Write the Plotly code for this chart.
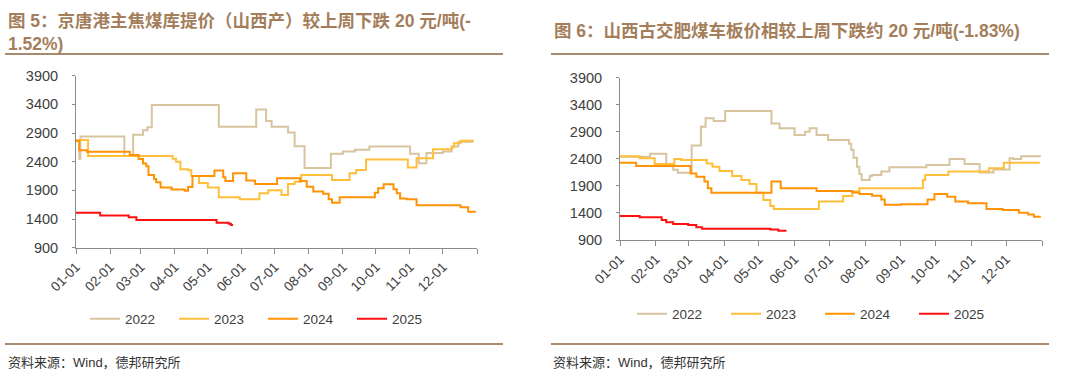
import plotly.graph_objects as go

# ---------------- data ----------------
years = ["2022", "2023", "2024", "2025"]
month_tick_labels = ["01-01", "02-01", "03-01", "04-01", "05-01", "06-01",
                     "07-01", "08-01", "09-01", "10-01", "11-01", "12-01"]

# Left chart: 京唐港主焦煤库提价（山西产）, 元/吨
jtg_2022_dates = ["01-01", "01-04", "01-05", "02-14", "02-22", "03-03", "03-07", "03-11", "05-11", "06-14",
                  "06-23", "06-28", "07-13", "07-19", "07-28", "08-21", "09-01", "09-12", "09-25", "11-01",
                  "11-09", "11-16", "12-01", "12-09", "12-15", "12-28"]
jtg_2022_vals = [2780, 2450, 2840, 2500, 2870, 2950, 3000, 3390, 3010, 3310,
                 3110, 3010, 2910, 2670, 2290, 2540, 2580, 2610, 2665, 2540,
                 2375, 2550, 2580, 2665, 2750, 2760]

jtg_2023_dates = ["01-01", "01-12", "03-30", "04-02", "04-06", "04-13", "04-16", "04-23", "05-01", "05-11",
                  "05-30", "06-17", "06-25", "07-07", "07-13", "07-19", "07-25", "08-22", "09-07", "09-13",
                  "09-22", "10-30", "11-07", "11-22", "12-09", "12-11", "12-17", "12-29"]
jtg_2023_vals = [2780, 2500, 2450, 2400, 2270, 2250, 2150, 2030, 1950, 1780,
                 1745, 1850, 1900, 1820, 2010, 2050, 2170, 2080, 2200, 2255,
                 2440, 2300, 2460, 2615, 2650, 2720, 2765, 2765]

jtg_2024_dates = ["01-01", "01-04", "01-11", "02-19", "02-27", "03-03", "03-06", "03-08", "03-13", "03-15",
                  "03-19", "03-29", "04-10", "04-13", "04-17", "05-07", "05-15", "05-17", "05-24", "06-05",
                  "06-13", "07-03", "07-24", "07-30", "08-05", "08-14", "08-19", "08-22", "08-29", "09-30",
                  "10-03", "10-08", "10-17", "10-20", "10-23", "10-29", "11-07", "12-17", "12-24", "12-31"]
jtg_2024_vals = [2760, 2600, 2575, 2515, 2445, 2370, 2320, 2170, 2100, 2040,
                 1950, 1915, 1895, 1960, 2150, 2245, 2130, 2065, 2200, 2070,
                 2010, 2110, 2065, 1965, 1880, 1840, 1745, 1685, 1780, 1860,
                 1935, 2005, 1920, 1850, 1760, 1745, 1640, 1605, 1525, 1525]

jtg_2025_dates = ["01-01", "01-23", "02-18", "02-25", "05-09", "05-20", "05-22", "05-24"]
jtg_2025_vals = [1510, 1460, 1430, 1385, 1336, 1316, 1296, 1296]

# Right chart: 山西古交肥煤车板价, 元/吨
gj_2022_dates = ["01-01", "01-27", "02-10", "02-16", "02-20", "03-04", "03-12", "03-16", "03-23", "04-02",
                 "05-12", "05-19", "06-01", "06-10", "06-14", "06-20", "06-30", "07-16", "07-18", "07-20",
                 "07-22", "07-25", "07-27", "07-29", "08-05", "08-07", "08-15", "08-22", "09-23", "10-13",
                 "10-26", "11-08", "11-20", "12-04", "12-07", "12-14", "12-31"]
gj_2022_vals = [2440, 2495, 2300, 2200, 2145, 2645, 2995, 3150, 3100, 3285,
                3055, 2965, 2840, 2900, 2965, 2840, 2750, 2750, 2680, 2565,
                2420, 2255, 2120, 2010, 2085, 2100, 2165, 2245, 2285, 2395,
                2305, 2150, 2205, 2410, 2395, 2450, 2450]

gj_2023_dates = ["01-01", "01-18", "01-31", "02-17", "02-23", "03-17", "03-22", "03-28", "04-08", "04-16",
                 "04-23", "04-29", "05-05", "05-11", "05-14", "06-22", "07-13", "07-21", "07-27", "09-20",
                 "09-22", "10-12", "11-16", "11-29", "12-30"]
gj_2023_vals = [2450, 2410, 2305, 2395, 2380, 2315, 2255, 2175, 2085, 2010,
                1935, 1775, 1640, 1530, 1475, 1610, 1715, 1795, 1855, 2010,
                2100, 2165, 2225, 2330, 2330]

gj_2024_dates = ["01-01", "01-15", "03-03", "03-08", "03-15", "03-18", "03-21", "05-12", "05-20", "06-20",
                 "07-21", "07-27", "08-07", "08-15", "08-18", "09-01", "09-24", "09-30", "10-11", "10-18",
                 "10-29", "11-14", "11-28", "12-12", "12-20", "12-25", "12-31"]
gj_2024_vals = [2330, 2270, 2130, 2070, 1980, 1855, 1775, 1980, 1855, 1805,
                1780, 1750, 1720, 1650, 1550, 1560, 1650, 1750, 1700, 1610,
                1580, 1475, 1455, 1405, 1370, 1330, 1330]

gj_2025_dates = ["01-01", "01-18", "02-06", "02-10", "02-16", "03-01", "03-08", "03-13", "05-11", "05-18", "05-25"]
gj_2025_vals = [1345, 1320, 1270, 1227, 1196, 1177, 1134, 1110, 1093, 1073, 1073]

left_title = "图 5：京唐港主焦煤库提价（山西产）较上周下跌 20 元/吨(-<br>1.52%)"
right_title = "图 6：山西古交肥煤车板价相较上周下跌约 20 元/吨(-1.83%)"
source_text = "资料来源：Wind，德邦研究所"

# ---------------- styling ----------------
W, H = 1080, 385
colors = {"2022": "#D8C49F", "2023": "#FFBF3A", "2024": "#FF9305", "2025": "#FF1010"}
BASE = "2001-"
AX_COL = "#8C8C8C"
TXT_COL = "#404040"
BROWN = "#A47E5B"
LINE_BROWN = "#A88A6E"
LATIN = "Liberation Sans, Arial, Noto Sans CJK SC"


def fx(x):
    return x / W


def fy(y):
    return 1 - y / H


fig = go.Figure()

left = [(jtg_2022_dates, jtg_2022_vals), (jtg_2023_dates, jtg_2023_vals),
        (jtg_2024_dates, jtg_2024_vals), (jtg_2025_dates, jtg_2025_vals)]
right = [(gj_2022_dates, gj_2022_vals), (gj_2023_dates, gj_2023_vals),
         (gj_2024_dates, gj_2024_vals), (gj_2025_dates, gj_2025_vals)]

for yr, (d, v) in zip(years, left):
    fig.add_trace(go.Scatter(x=[BASE + s for s in d], y=v, mode="lines", name=yr,
                             line=dict(color=colors[yr], width=2, shape="hv"),
                             xaxis="x", yaxis="y", legend="legend"))
for yr, (d, v) in zip(years, right):
    fig.add_trace(go.Scatter(x=[BASE + s for s in d], y=v, mode="lines", name=yr,
                             line=dict(color=colors[yr], width=2, shape="hv"),
                             xaxis="x2", yaxis="y2", legend="legend2"))

tickvals = [BASE + m for m in month_tick_labels] + ["2002-01-01"]
ticktext = month_tick_labels + [""]


def xaxis(dom, anchor):
    return dict(domain=dom, anchor=anchor, type="date", automargin=False,
                range=["2001-01-01", "2002-01-01"],
                tickmode="array", tickvals=tickvals, ticktext=ticktext,
                tickangle=-45, ticks="outside", ticklen=5, tickcolor=AX_COL,
                showline=True, linecolor=AX_COL, linewidth=1,
                showgrid=False, zeroline=False,
                tickfont=dict(family=LATIN, size=13.5, color=TXT_COL))


def yaxis(dom, anchor):
    return dict(domain=dom, anchor=anchor, range=[900, 3900], automargin=False,
                tickmode="linear", tick0=900, dtick=500,
                ticks="outside", ticklen=3, tickcolor=AX_COL,
                showline=True, linecolor=AX_COL, linewidth=1,
                showgrid=False, zeroline=False, ticklabelstandoff=11,
                tickfont=dict(family=LATIN, size=14.5, color=TXT_COL))


legend_common = dict(orientation="h", xanchor="center", yanchor="middle",
                     xref="container", yref="container",
                     bgcolor="rgba(0,0,0,0)", itemwidth=30,
                     font=dict(family=LATIN, size=13.5, color=TXT_COL))

fig.update_layout(
    width=W, height=H, autosize=False,
    margin=dict(l=0, r=0, t=0, b=0, pad=0, autoexpand=False),
    paper_bgcolor="white", plot_bgcolor="white",
    xaxis=xaxis([fx(76), fx(477)], "y"),
    yaxis=yaxis([fy(247.7), fy(75.7)], "x"),
    xaxis2=xaxis([fx(620), fx(1042)], "y2"),
    yaxis2=yaxis([fy(240), fy(77.7)], "x2"),
    legend=dict(x=fx(263), y=fy(319), entrywidth=44, **legend_common),
    legend2=dict(x=fx(820), y=fy(314), entrywidth=49, **legend_common),
    showlegend=True,
)

shapes = []
for x0, x1 in [(5, 503), (551, 1049)]:
    for yy in [54, 344]:
        shapes.append(dict(type="line", xref="paper", yref="paper",
                           x0=fx(x0), x1=fx(x1), y0=fy(yy), y1=fy(yy),
                           line=dict(color=LINE_BROWN, width=2)))
fig.update_layout(shapes=shapes)

title_font = dict(family=LATIN, size=17.5, color=BROWN)
annotations = [
    dict(text="<b>" + left_title + "</b>", x=fx(6), y=fy(9), xref="paper", yref="paper",
         xanchor="left", yanchor="top", align="left", showarrow=False, font=title_font),
    dict(text="<b>" + right_title + "</b>", x=fx(552), y=fy(31), xref="paper", yref="paper",
         xanchor="left", yanchor="middle", align="left", showarrow=False, font=title_font),
    dict(text=source_text, x=fx(6), y=fy(362), xref="paper", yref="paper",
         xanchor="left", yanchor="middle", showarrow=False,
         font=dict(family=LATIN, size=13, color="#333333")),
    dict(text=source_text, x=fx(551), y=fy(362), xref="paper", yref="paper",
         xanchor="left", yanchor="middle", showarrow=False,
         font=dict(family=LATIN, size=13, color="#333333")),
]
fig.update_layout(annotations=annotations)

fig.write_html("out.html", config={"displayModeBar": False},
               post_script="document.body.style.margin='0';document.body.style.padding='0';")
